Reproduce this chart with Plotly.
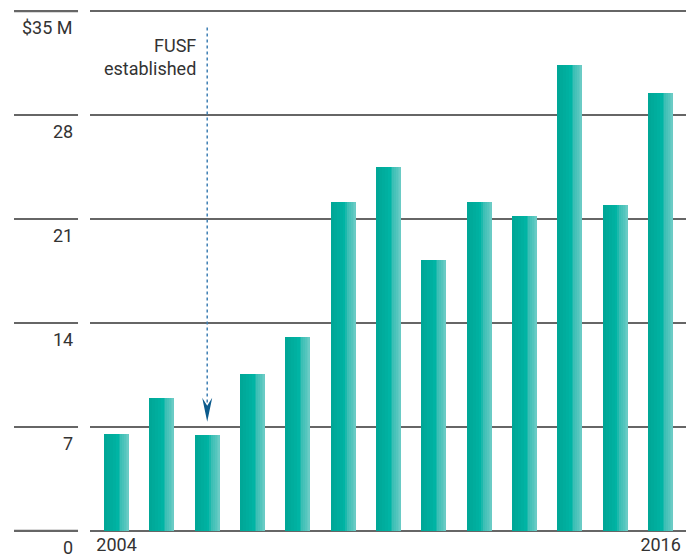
import plotly.graph_objects as go

# data
years = [2004, 2005, 2006, 2007, 2008, 2009, 2010, 2011, 2012, 2013, 2014, 2015, 2016]
values = [6.5, 8.95, 6.45, 10.6, 13.05, 22.15, 24.5, 18.25, 22.15, 21.2, 31.35, 21.95, 29.5]
y_ticks = [0, 7, 14, 21, 28, 35]
y_labels = ["0", "7", "14", "21", "28", "$35 M"]
x_ticks = [2004, 2016]
x_labels = ["2004", "2016"]
event_year = 2006
event_text = "FUSF<br>established"

FONT = "Roboto, Liberation Sans, Arial, sans-serif"
GRID = "#666666"
TEXT = "#333333"
BAR_W = 0.55

# fake the horizontal gradient on each bar with stacked strips
strips = [(0.0, "#00a797"), (0.12, "#00aa9a"), (0.24, "#00ad9d"), (0.36, "#00b0a0"),
          (0.48, "#00b4a4"), (0.58, "#1bb9ac"), (0.64, "#3cbfb5"), (0.72, "#47c2b9"),
          (0.80, "#53c5bd"), (0.88, "#5fc9c1"), (0.94, "#6acbc5")]

fig = go.Figure()
for f, col in strips:
    fig.add_trace(go.Bar(x=years, y=values, width=BAR_W * (1 - f),
                         offset=-BAR_W / 2 + f * BAR_W,
                         marker=dict(color=col, line=dict(width=0)),
                         hoverinfo="skip", showlegend=False))

shapes = []
annotations = []
# gridline stubs left of the plot area and the y labels under them
for v, lab in zip(y_ticks, y_labels):
    shapes.append(dict(type="line", xref="paper", yref="y", x0=-0.1275, x1=-0.0201,
                       y0=v, y1=v, line=dict(color=GRID, width=2.2), layer="below"))
    annotations.append(dict(xref="paper", yref="y", x=-0.0255, y=v, text=lab,
                            showarrow=False, xanchor="right", yanchor="middle",
                            yshift=-16.5, font=dict(family=FONT, size=18, color=TEXT)))

# dotted pointer for FUSF
shapes.append(dict(type="line", xref="x", yref="y", x0=event_year, x1=event_year,
                   y0=33.9, y1=8.6, line=dict(color="#3f7fb4", width=1.5, dash="dot")))
shapes.append(dict(type="path", xref="x", yref="y", xsizemode="pixel", ysizemode="pixel",
                   xanchor=event_year, yanchor=7.35,
                   path="M0,0 L-5,24 L0,16 L5,24 Z",
                   fillcolor="#0b5a8c", line=dict(width=0)))
annotations.append(dict(xref="x", yref="y", x=event_year, y=33.9, text=event_text,
                        showarrow=False, xanchor="right", yanchor="top", align="right",
                        xshift=-9, yshift=-6, font=dict(family=FONT, size=18, color=TEXT)))

fig.update_layout(
    width=686, height=557,
    margin=dict(l=90, r=0, t=10, b=25),
    paper_bgcolor="white", plot_bgcolor="white",
    barmode="overlay", bargap=0,
    shapes=shapes, annotations=annotations,
    font=dict(family=FONT, size=18, color=TEXT),
)
fig.update_xaxes(range=[2003.415, 2016.56], tickvals=x_ticks, ticktext=x_labels,
                 showgrid=False, zeroline=False, showline=False, ticks="",
                 tickfont=dict(family=FONT, size=18, color=TEXT))
fig.update_yaxes(range=[-0.07, 35.07], tickvals=y_ticks, showticklabels=False,
                 showgrid=True, gridcolor=GRID, gridwidth=2.2, zeroline=False,
                 showline=False, ticks="")

# drop the default page margin so the figure sits at the window corner
fig.write_html("out.html", config={"displayModeBar": False},
               post_script="document.body.style.margin='0';")
